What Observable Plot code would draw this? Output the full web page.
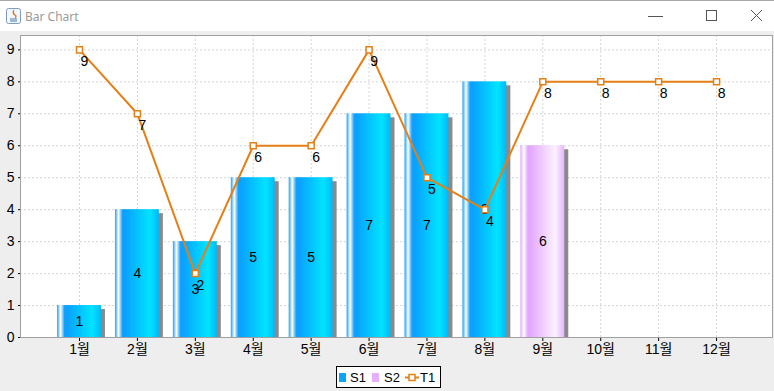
<!DOCTYPE html>
<html><head><meta charset="utf-8">
<script src="https://cdn.jsdelivr.net/npm/d3@7"></script>
<script src="https://cdn.jsdelivr.net/npm/@observablehq/plot@0.6"></script>
<style>
body{margin:0;background:#eeeeee;width:774px;height:391px;overflow:hidden;position:relative;font-family:"Liberation Sans",Arial,"Noto Sans CJK KR",sans-serif;}
#titlebar{position:absolute;left:0;top:0;width:774px;height:31px;background:#fff;border-top:1px solid #a8a8a8;box-sizing:border-box;}
#titlebar .t{position:absolute;left:25px;top:7px;font:12px "Noto Sans","Liberation Sans",sans-serif;color:#9a9a9a;}
#chart{position:absolute;left:0;top:32px;}
#legend{position:absolute;left:336px;top:366px;width:105px;height:22px;box-sizing:border-box;border:1px solid #000;background:#fff;font-size:13px;color:#000;}
#legend span{position:absolute;top:3px;}
</style></head><body>
<div id="titlebar">
  <svg width="774" height="31" style="position:absolute;left:0;top:0">
    <rect x="6.5" y="7.5" width="14" height="15" rx="2" fill="#f4f8fc" stroke="#7a9cc0"/>
    <path d="M10 18 h7 M10 20 h7" stroke="#4a78b0" stroke-width="1"/>
    <path d="M14 9 q-2 3 1 5 q2 1 0 3" stroke="#e07020" stroke-width="1.3" fill="none"/>
    <line x1="648" y1="15.5" x2="663" y2="15.5" stroke="#555" stroke-width="1"/>
    <rect x="706.5" y="9.5" width="10" height="10" fill="none" stroke="#555" stroke-width="1"/>
    <path d="M751 9 L762 20 M762 9 L751 20" stroke="#555" stroke-width="1"/>
  </svg>
  <div class="t">Bar Chart</div>
</div>
<div id="chart"></div>
<div id="legend">
  <svg width="105" height="22" style="position:absolute;left:0;top:0">
    <rect x="2" y="6" width="7" height="9" fill="#0aa4f8"/>
    <rect x="35" y="6" width="7" height="9" fill="#e6b0ff"/>
    <line x1="68" y1="10.5" x2="82" y2="10.5" stroke="#e57f16" stroke-width="2"/>
    <rect x="72" y="7.5" width="6" height="6" fill="#fff" stroke="#e57f16" stroke-width="1.5"/>
  </svg>
  <span style="left:13px">S1</span>
  <span style="left:47px">S2</span>
  <span style="left:83px">T1</span>
</div>
<script>
const months = ["1월","2월","3월","4월","5월","6월","7월","8월","9월","10월","11월","12월"];
const s1Values = [1,4,3,5,5,7,7,8,null,null,null,null];
const s2Values = [null,null,null,null,null,null,null,null,6,null,null,null];
const t1Values = [9,7,2,6,6,9,5,4,8,8,8,8];
const yTicks = [0,1,2,3,4,5,6,7,8,9];

const s1 = months.map((m,i)=>({m, v:s1Values[i]})).filter(d=>d.v!=null);
const s2 = months.map((m,i)=>({m, v:s2Values[i]})).filter(d=>d.v!=null);
const bars = s1.concat(s2);
const t1 = months.map((m,i)=>({m, v:t1Values[i]}));
const orange = "#e57f16";

const chart = Plot.plot({
  width: 774, height: 330,
  marginTop: 3, marginBottom: 25, marginLeft: 20, marginRight: 2,
  style: {background:"#eeeeee", fontSize:"14px", fontFamily:'"Liberation Sans",Arial,"Noto Sans CJK KR",sans-serif', color:"#000"},
  x: {type:"band", domain: months, range:[50.05, 745], padding:0, round:false, tickSize:4, tickPadding:3, label:null},
  y: {domain:[0,9.45], ticks: yTicks, tickSize:2, tickPadding:4, label:null, tickFormat: d=>String(d)},
  marks: [
    Plot.frame({fill:"#fff", stroke:"none"}),
    Plot.ruleY(yTicks.slice(1), {stroke:"#d6d6d6", strokeDasharray:"2,2"}),
    Plot.ruleX(months, {stroke:"#d6d6d6", strokeDasharray:"2,2"}),
    Plot.barY(bars, {x:"m", y:"v", fill:"#8a8a8a", dx:4, dy:4, insetLeft:7, insetRight:7, insetBottom:4}),
    Plot.barY(s1, {x:"m", y:"v", fill:"url(#gS1)", insetLeft:7, insetRight:7}),
    Plot.barY(s2, {x:"m", y:"v", fill:"url(#gS2)", insetLeft:7, insetRight:7}),
    Plot.text(bars, {x:"m", y:d=>d.v/2, text:d=>String(d.v), fontSize:14, fill:"#000"}),
    Plot.frame({stroke:"#a0a0a0", fill:"none"}),
    Plot.line(t1, {x:"m", y:"v", stroke:orange, strokeWidth:2}),
    Plot.dot(t1, {x:"m", y:"v", symbol:"square", r:3.4, fill:"#fff", stroke:orange, strokeWidth:1.5}),
    Plot.text(t1, {x:"m", y:"v", text:d=>String(d.v), dx:5, dy:12, fontSize:14, fill:"#000"})
  ]
});

const defs = d3.select(chart).insert("defs", ":first-child");
function grad(id, stops){
  const g = defs.append("linearGradient").attr("id", id).attr("x1","0").attr("x2","1").attr("y1","0").attr("y2","0");
  stops.forEach(([o,c])=>g.append("stop").attr("offset",o).attr("stop-color",c));
}
grad("gS1", [[0,"#1aa0f8"],[0.08,"#ffffff"],[0.17,"#14a0fa"],[0.22,"#0aa0ff"],[0.8,"#00e4ff"],[1,"#00b8f8"]]);
grad("gS2", [[0,"#e2a8fc"],[0.08,"#ffffff"],[0.17,"#e2a8fc"],[0.22,"#e4a8fd"],[0.8,"#fcf2ff"],[1,"#e6b4ff"]]);
document.getElementById("chart").appendChild(chart);
</script>
</body></html>
